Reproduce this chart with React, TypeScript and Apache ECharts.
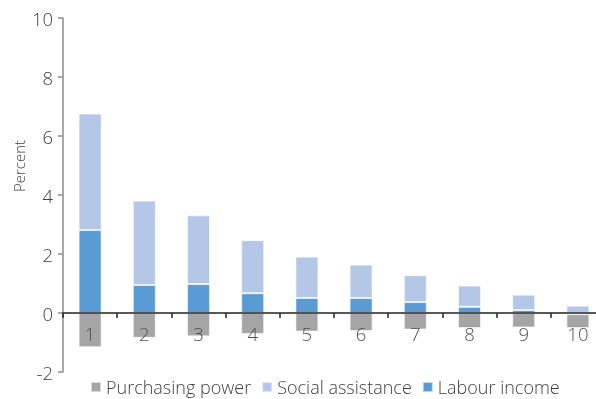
import React, { useEffect, useRef } from "react";
import * as echarts from "echarts";

const categories = ["1", "2", "3", "4", "5", "6", "7", "8", "9", "10"];
const labourIncome = [2.81, 0.95, 0.98, 0.67, 0.51, 0.51, 0.37, 0.21, 0.1, -0.04];
const socialAssistance = [3.95, 2.86, 2.33, 1.8, 1.4, 1.13, 0.91, 0.72, 0.52, 0.25];
const purchasingPower = [-1.16, -0.84, -0.79, -0.71, -0.63, -0.61, -0.56, -0.51, -0.49, -0.47];
const yTicks = { min: -2, max: 10, interval: 2 };

const FONT = "'Open Sans', 'Noto Sans', sans-serif";

export default function App() {
  const ref = useRef<HTMLDivElement>(null);
  useEffect(() => {
    if (!ref.current) return;
    const chart = echarts.init(ref.current, undefined, { renderer: "svg" });
    const barStyle = (color: string) => ({
      color,
      borderColor: "rgba(255,255,255,0.6)",
      borderWidth: 1,
    });
    chart.setOption({
      animation: false,
      textStyle: { fontFamily: FONT, color: "#404040" },
      grid: { left: 63, right: 5, top: 18, bottom: 27, containLabel: false },
      legend: {
        data: ["Purchasing power", "Social assistance", "Labour income"],
        bottom: -2,
        left: 85,
        itemWidth: 10,
        itemHeight: 10,
        itemGap: 10,
        icon: "rect",
        textStyle: { fontFamily: FONT, fontSize: 18, color: "#404040", fontWeight: 300 },
      },
      graphic: [
        {
          type: "text",
          x: 19,
          y: 166,
          rotation: Math.PI / 2,
          style: {
            text: "Percent",
            fontFamily: FONT,
            fontSize: 15,
            fontWeight: 300,
            fill: "#404040",
            align: "center",
            verticalAlign: "middle",
          },
        },
      ],
      xAxis: {
        type: "category",
        data: categories,
        offset: -59,
        z: 10,
        axisLine: { onZero: false, lineStyle: { color: "#222222", width: 1.5 } },
        axisTick: { show: true, length: 5, lineStyle: { color: "#222222", width: 1.5 } },
        axisLabel: { fontFamily: FONT, fontSize: 18.5, color: "#505050", margin: 11, fontWeight: 300 },
      },
      yAxis: {
        type: "value",
        min: yTicks.min,
        max: yTicks.max,
        interval: yTicks.interval,
        axisLine: { show: true, lineStyle: { color: "#8c8c8c", width: 1.5 } },
        axisTick: { show: true, length: 5, lineStyle: { color: "#8c8c8c", width: 1.5 } },
        axisLabel: { fontFamily: FONT, fontSize: 18.5, color: "#404040", margin: 10, fontWeight: 300 },
        splitLine: { show: false },
      },
      series: [
        {
          name: "Labour income",
          type: "bar",
          stack: "s",
          barWidth: 23,
          data: labourIncome,
          itemStyle: barStyle("#5b9bd5"),
        },
        {
          name: "Social assistance",
          type: "bar",
          stack: "s",
          barWidth: 23,
          data: socialAssistance,
          itemStyle: barStyle("#b4c7e7"),
        },
        {
          name: "Purchasing power",
          type: "bar",
          stack: "s",
          barWidth: 23,
          data: purchasingPower,
          itemStyle: barStyle("#a5a5a5"),
        },
      ],
    });
    return () => chart.dispose();
  }, []);
  return (
    <div
      ref={ref}
      style={{ position: "fixed", left: 0, top: 0, width: 610, height: 399 }}
    />
  );
}
